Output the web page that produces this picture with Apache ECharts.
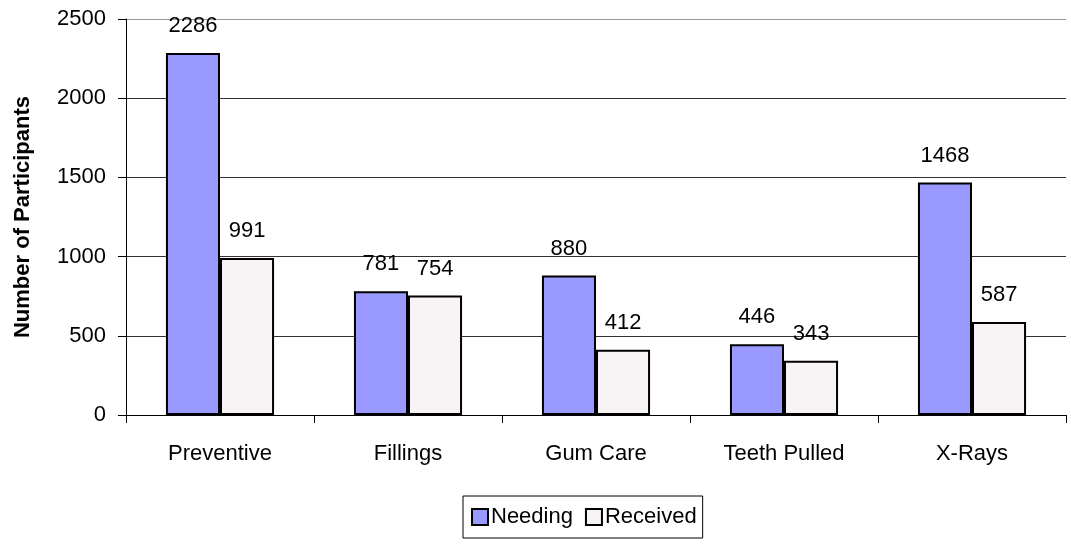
<!DOCTYPE html>
<html><head><meta charset="utf-8">
<script src="https://cdn.jsdelivr.net/npm/echarts@6/dist/echarts.min.js"></script>
<style>html,body{margin:0;padding:0;background:#fff}#c{width:1071px;height:544px}</style>
</head><body><div id="c"></div>
<script>
var categories = ['Preventive', 'Fillings', 'Gum Care', 'Teeth Pulled', 'X-Rays'];
var needing = [2286, 781, 880, 446, 1468];
var received = [991, 754, 412, 343, 587];
var yTicks = [0, 500, 1000, 1500, 2000, 2500];

var font = '"Liberation Sans", Arial, sans-serif';
var chart = echarts.init(document.getElementById('c'));
var lbl = {show: true, position: 'top', distance: 16, color: '#000', fontSize: 22, fontFamily: font};
chart.setOption({
  animation: false,
  grid: {left: 126, right: 5, top: 19, bottom: 129},
  legend: {
    bottom: 6, left: 463, icon: 'rect', itemWidth: 16, itemHeight: 16, itemGap: 12,
    borderColor: '#000', borderWidth: 1, padding: [10, 6, 10, 8],
    textStyle: {fontSize: 22, fontFamily: font, color: '#000', padding: [0, 0, 0, -2]},
    data: ['Needing', 'Received']
  },
  xAxis: {
    type: 'category', data: categories,
    axisLine: {lineStyle: {color: '#000', width: 1}},
    axisTick: {show: true, length: 8, lineStyle: {color: '#000'}},
    axisLabel: {color: '#000', fontSize: 22, fontFamily: font, margin: 28}
  },
  yAxis: {
    type: 'value', min: yTicks[0], max: yTicks[yTicks.length - 1], interval: 500,
    name: 'Number of Participants', nameLocation: 'middle', nameGap: 92,
    nameTextStyle: {fontSize: 22, fontWeight: 'bold', fontFamily: font, color: '#000'},
    axisLine: {show: true, lineStyle: {color: '#000'}},
    axisTick: {show: true, inside: false, length: 8, lineStyle: {color: '#000'}},
    axisLabel: {color: '#000', fontSize: 22, fontFamily: font, margin: 20,
      formatter: function (v) { return String(v); }},
    splitLine: {lineStyle: {color: ['#333', '#333', '#333', '#333', '#333', '#999'], width: 1}}
  },
  series: [
    {name: 'Needing', type: 'bar', data: needing, barGap: '0%', barCategoryGap: '42.5%',
     itemStyle: {color: '#9999ff', borderColor: '#000', borderWidth: 2}, label: lbl},
    {name: 'Received', type: 'bar', data: received, barGap: '0%', barCategoryGap: '42.5%',
     itemStyle: {color: '#f8f3f4', borderColor: '#000', borderWidth: 2}, label: lbl}
  ]
});
</script></body></html>
